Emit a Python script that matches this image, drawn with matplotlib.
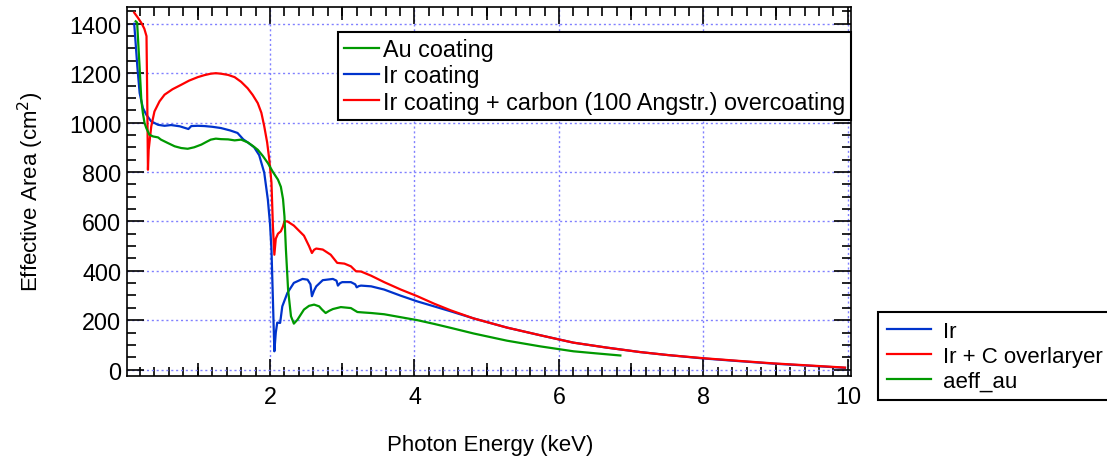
import matplotlib
matplotlib.use("Agg")
import matplotlib.pyplot as plt
from matplotlib.ticker import MultipleLocator

plt.rcParams['font.family'] = ['Liberation Sans', 'DejaVu Sans']
plt.rcParams['font.size'] = 16.8

# ---------------- data ----------------
ir_E = [0.12, 0.163, 0.195, 0.24, 0.287, 0.355, 0.45, 0.54, 0.63, 0.75, 0.87, 0.91, 1.00,
        1.09, 1.20, 1.32, 1.45, 1.55, 1.63, 1.70, 1.78, 1.85, 1.92, 1.97, 2.00, 2.02, 2.04,
        2.06, 2.08, 2.10, 2.14, 2.17, 2.24, 2.33, 2.45, 2.52, 2.56, 2.58, 2.61, 2.64, 2.73,
        2.87, 2.92, 2.94, 2.97, 3.00, 3.12, 3.18, 3.20, 3.23, 3.26, 3.40, 3.58, 3.81, 4.04,
        4.27, 4.50, 4.82, 5.28, 5.74, 6.00, 6.20, 6.66, 7.12, 7.50, 8.00, 8.50, 8.97, 9.50, 9.96]
ir_A = [1400, 1227, 1120, 1059, 1032, 1005, 991, 987, 990, 985, 974, 986, 987,
        986, 983, 978, 968, 958, 932, 918, 900, 868, 797, 688, 590, 486, 283,
        74, 150, 190, 189, 256, 310, 351, 367, 364, 345, 297, 320, 337, 362,
        367, 360, 340, 350, 354, 354, 345, 333, 338, 340, 337, 324, 299, 276,
        256, 236, 207, 170, 139, 122, 109, 89, 71, 59, 45, 34, 24, 15, 7]

irc_E = [0.12, 0.17, 0.22, 0.26, 0.29, 0.30, 0.31, 0.32, 0.356, 0.40, 0.47, 0.54, 0.65,
         0.77, 0.88, 1.00, 1.09, 1.18, 1.25, 1.32, 1.42, 1.51, 1.60, 1.69, 1.76, 1.83, 1.88,
         1.92, 1.96, 1.99, 2.02, 2.04, 2.06, 2.08, 2.11, 2.15, 2.18, 2.20, 2.24, 2.33, 2.47,
         2.54, 2.58, 2.61, 2.64, 2.73, 2.84, 2.93, 3.03, 3.12, 3.19, 3.26, 3.40, 3.58, 3.81,
         4.04, 4.27, 4.50, 4.82, 5.28, 5.74, 6.00, 6.20, 6.66, 7.12, 7.50, 8.00, 8.50, 8.97,
         9.50, 9.96]
irc_A = [1445, 1425, 1403, 1380, 1350, 1100, 809, 890, 985, 1045, 1086, 1113, 1135,
         1153, 1170, 1184, 1192, 1198, 1200, 1198, 1193, 1184, 1165, 1139, 1112, 1079, 1040,
         985, 920, 850, 757, 580, 465, 530, 550, 560, 580, 600, 600, 583, 542,
         500, 472, 485, 490, 486, 465, 432, 429, 418, 398, 397, 380, 354, 324,
         297, 267, 240, 207, 170, 139, 122, 109, 89, 71, 59, 46, 35, 25,
         16, 8]

au_E = [0.14, 0.16, 0.194, 0.218, 0.24, 0.263, 0.287, 0.33, 0.38, 0.45, 0.49, 0.58, 0.68,
        0.77, 0.86, 0.95, 1.05, 1.12, 1.18, 1.25, 1.32, 1.42, 1.51, 1.60, 1.69, 1.76, 1.83,
        1.90, 1.97, 2.04, 2.11, 2.15, 2.18, 2.20, 2.22, 2.25, 2.29, 2.33, 2.38, 2.47, 2.54,
        2.61, 2.68, 2.72, 2.77, 2.82, 2.87, 2.98, 3.12, 3.17, 3.21, 3.30, 3.40, 3.58, 3.81,
        4.04, 4.27, 4.50, 4.82, 5.28, 5.74, 6.20, 6.50, 6.85]
au_A = [1410, 1405, 1227, 1093, 1038, 998, 978, 951, 944, 940, 931, 918, 904,
        897, 894, 900, 911, 922, 931, 935, 933, 932, 928, 931, 920, 906, 890,
        865, 836, 800, 769, 740, 690, 620, 486, 324, 216, 186, 202, 243, 258,
        263, 256, 243, 229, 238, 245, 253, 249, 240, 233, 231, 229, 224, 212,
        200, 185, 169, 146, 117, 94, 74, 66, 57]

legend_in_labels = ["Au coating", "Ir coating", "Ir coating + carbon (100 Angstr.) overcoating"]
legend_out_labels = ["Ir", "Ir + C overlaryer", "aeff_au"]

x_label = "Photon Energy (keV)"
y_label = "Effective Area (cm$^2$)"

# ---------------- style ----------------
c_blue = "#0033cc"
c_red = "#ff0000"
c_green = "#009900"

fig = plt.figure(figsize=(11.07, 4.64), dpi=100)
ax = fig.add_axes([127/1107, 1 - 376.5/464, 724.5/1107, 368.5/464])

l_ir, = ax.plot(ir_E, ir_A, color=c_blue, lw=1.6)
l_irc, = ax.plot(irc_E, irc_A, color=c_red, lw=1.6)
l_au, = ax.plot(au_E, au_A, color=c_green, lw=1.6)

ax.set_xlim(0.02, 10.05)
ax.set_ylim(-24, 1468)

ax.xaxis.set_major_locator(MultipleLocator(2))
ax.xaxis.set_minor_locator(MultipleLocator(0.2))
ax.yaxis.set_major_locator(MultipleLocator(200))
ax.yaxis.set_minor_locator(MultipleLocator(50))

ax.tick_params(which='both', direction='in', top=True, right=True, width=1.2, color='black')
ax.tick_params(which='major', length=12.5)
ax.tick_params(which='minor', length=6.5)
ax.tick_params(axis='x', which='major', pad=7)
ax.tick_params(axis='y', which='major', pad=4)

for sp in ax.spines.values():
    sp.set_linewidth(1.2)

# medium ticks at odd keV
for loc in ('bottom', 'top'):
    sec = ax.secondary_xaxis(loc)
    sec.set_xticks([1, 3, 5, 7, 9])
    sec.tick_params(direction='in', length=9.5, width=1.2,
                    labelbottom=False, labeltop=False)
    sec.spines[loc].set_visible(False)

ax.set_axisbelow(True)
ax.grid(which='major', color=(0.5, 0.5, 1.0), linestyle=(0, (1.5, 2.0)), linewidth=1.0)

ax.set_xlabel(x_label, fontsize=16)
ax.set_ylabel(y_label, fontsize=16)
ax.xaxis.set_label_coords(0.501, -0.158)
ax.yaxis.set_label_coords(-0.112, 0.5)

leg1 = ax.legend([l_au, l_ir, l_irc], legend_in_labels, loc='upper right',
                 bbox_to_anchor=(1.0, 0.932), frameon=True, fancybox=False,
                 framealpha=1, edgecolor='black', handlelength=1.5, handletextpad=0.17,
                 labelspacing=0.14, borderpad=0.26, borderaxespad=0, fontsize=16.8)
leg1.get_frame().set_linewidth(1.5)
ax.add_artist(leg1)

leg2 = ax.legend([l_ir, l_irc, l_au], legend_out_labels, loc='upper left',
                 bbox_to_anchor=(1.0366, 0.1723), frameon=True, fancybox=False,
                 framealpha=1, edgecolor='black', handlelength=2.0, handletextpad=0.54,
                 labelspacing=0.17, borderpad=0.4, borderaxespad=0, fontsize=16)
leg2.get_frame().set_linewidth(1.5)

fig.savefig("out.png", dpi=100)
